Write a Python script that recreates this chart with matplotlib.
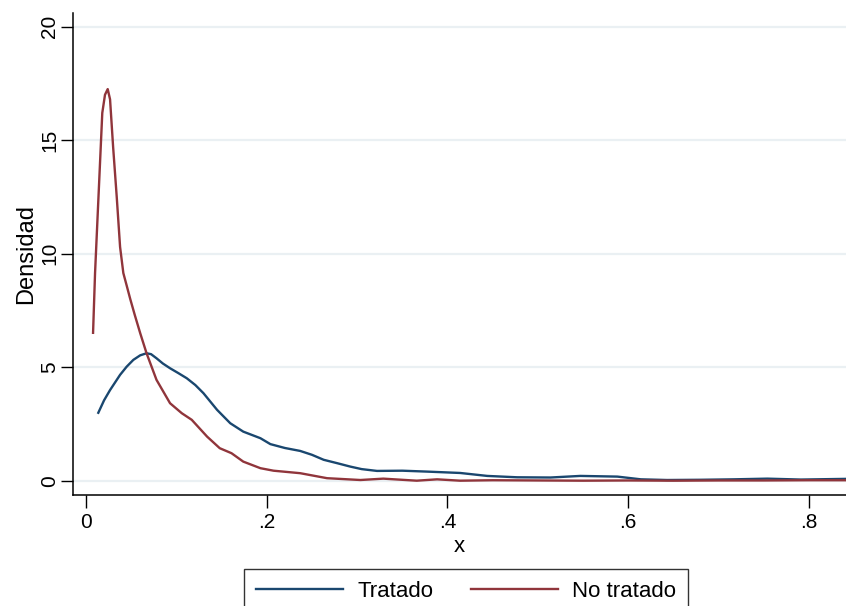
import matplotlib
matplotlib.use("Agg")
import matplotlib.pyplot as plt

# ---------- data ----------
x_tratado = [0.0136, 0.020, 0.0266, 0.0377, 0.045, 0.0524, 0.060, 0.067, 0.072, 0.078,
             0.085, 0.093, 0.102, 0.1115, 0.121, 0.130, 0.145, 0.1596, 0.174, 0.193,
             0.204, 0.220, 0.237, 0.250, 0.263, 0.278, 0.2925, 0.305, 0.322, 0.350,
             0.3775, 0.414, 0.444, 0.477, 0.514, 0.547, 0.588, 0.614, 0.643, 0.680,
             0.717, 0.754, 0.791, 0.841]
y_tratado = [3.0, 3.55, 4.0, 4.67, 5.03, 5.33, 5.53, 5.62, 5.58, 5.4,
             5.17, 4.96, 4.75, 4.52, 4.22, 3.86, 3.13, 2.54, 2.17, 1.88,
             1.62, 1.45, 1.32, 1.15, 0.93, 0.78, 0.63, 0.52, 0.44, 0.45,
             0.41, 0.35, 0.22, 0.16, 0.15, 0.22, 0.19, 0.07, 0.04, 0.05,
             0.07, 0.10, 0.06, 0.09]

x_notratado = [0.0078, 0.010, 0.013, 0.0155, 0.018, 0.021, 0.024, 0.0266, 0.030, 0.034,
               0.0377, 0.0413, 0.045, 0.049, 0.054, 0.060, 0.067, 0.078, 0.093, 0.106,
               0.117, 0.134, 0.148, 0.161, 0.174, 0.193, 0.2075, 0.237, 0.2667, 0.3036,
               0.329, 0.366, 0.3885, 0.414, 0.45, 0.50, 0.55, 0.60, 0.65, 0.70,
               0.75, 0.80, 0.841]
y_notratado = [6.52, 9.15, 11.8, 14.0, 16.2, 17.0, 17.25, 16.8, 14.7, 12.5,
               10.3, 9.15, 8.6, 8.0, 7.3, 6.5, 5.62, 4.45, 3.42, 2.98,
               2.69, 1.95, 1.44, 1.22, 0.85, 0.56, 0.45, 0.34, 0.12, 0.04,
               0.10, 0.01, 0.07, 0.01, 0.03, 0.02, 0.01, 0.02, 0.01, 0.02,
               0.02, 0.03, 0.03]

y_ticks = [0, 5, 10, 15, 20]
x_ticks = [0, 0.2, 0.4, 0.6, 0.8]
x_labels = ["0", ".2", ".4", ".6", ".8"]

navy = "#1a476f"
maroon = "#90353b"

plt.rcParams['font.family'] = ['Liberation Sans', 'DejaVu Sans']

fig = plt.figure(figsize=(8.46, 6.06), dpi=100)
ax = fig.add_axes([73 / 846, 1 - 495 / 606, 1 - 73 / 846, (495 - 13) / 606])

for yv in y_ticks:
    ax.axhline(yv, color="#eaf0f3", lw=1.6, zorder=0)

ax.plot(x_tratado, y_tratado, color=navy, lw=1.7, label="Tratado")
ax.plot(x_notratado, y_notratado, color=maroon, lw=1.7, label="No tratado")

ax.set_xlim(-0.0144, 0.841)
ax.set_ylim(-0.62, 20.6)
ax.set_xticks(x_ticks)
ax.set_xticklabels(x_labels)
ax.set_yticks(y_ticks)
ax.set_yticklabels([str(v) for v in y_ticks], rotation=90, va="center")
ax.tick_params(direction="out", length=9, width=1, labelsize=15, pad=4)
ax.tick_params(axis="y", pad=1)

for s in ["top", "right"]:
    ax.spines[s].set_visible(False)
for s in ["left", "bottom"]:
    ax.spines[s].set_linewidth(1.1)

ax.set_xlabel("x", fontsize=16, labelpad=3)
ax.set_ylabel("Densidad", fontsize=17, labelpad=2)

# legend box sits at the bottom edge, its lower border runs off the canvas
leg = fig.legend(loc="upper center", bbox_to_anchor=(466 / 846, 1 - 569 / 606),
                 ncol=2, fontsize=16, frameon=True, fancybox=False,
                 edgecolor="black", handlelength=3.9, columnspacing=1.7,
                 borderpad=0.55, handletextpad=0.65, borderaxespad=0)
leg.get_frame().set_linewidth(1.0)

fig.savefig("out.png", dpi=100)
